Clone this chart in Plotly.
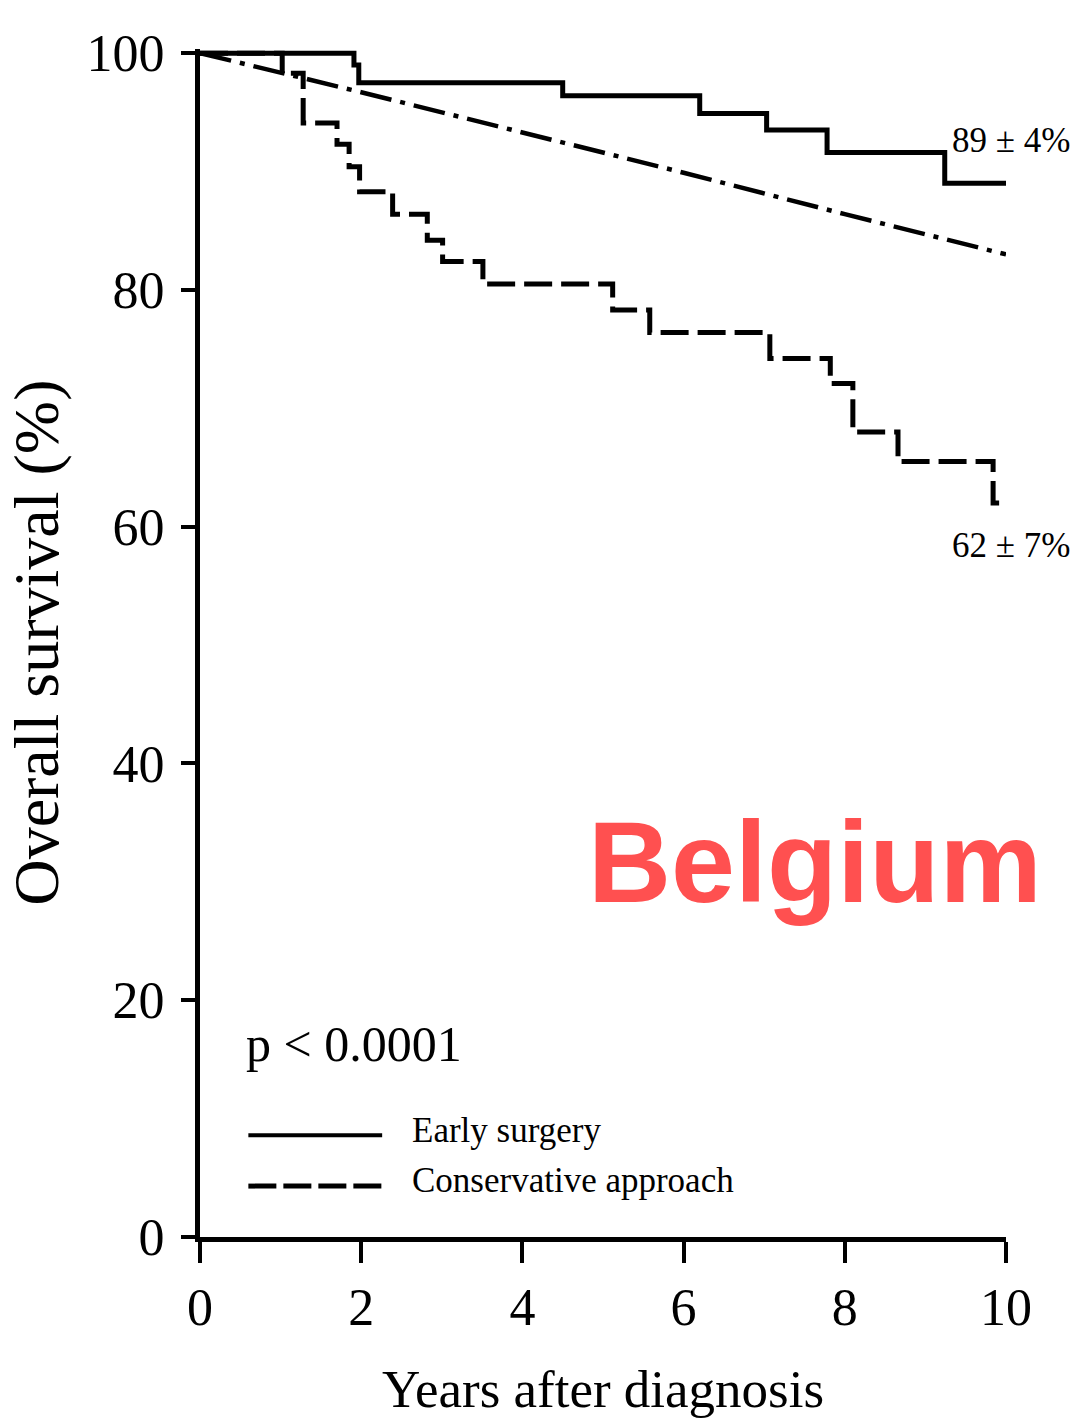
import plotly.graph_objects as go

# Kaplan-Meier step curves (years after diagnosis, overall survival %)
early_years = [0, 1.91, 1.97, 4.50, 6.20, 7.03, 7.78, 9.24, 10.0]
early_surv = [100, 99.0, 97.5, 96.4, 94.9, 93.5, 91.6, 89.0, 89.0]

cons_years = [0, 1.02, 1.28, 1.70, 1.85, 1.98, 2.39, 2.82, 3.01, 3.51,
              5.12, 5.58, 7.07, 7.82, 8.10, 8.66, 9.84, 10.0]
cons_surv = [100, 98.3, 94.1, 92.3, 90.4, 88.3, 86.4, 84.2, 82.4, 80.5,
             78.3, 76.4, 74.2, 72.1, 68.0, 65.5, 62.0, 62.0]

# Expected survival of the matched general population
expected_years = [0, 2, 4, 6, 8, 10]
expected_surv = [100, 96.7, 93.3, 89.9, 86.4, 83.0]

x_ticks = [0, 2, 4, 6, 8, 10]
y_ticks = [0, 20, 40, 60, 80, 100]

early_err = 4
cons_err = 7

SERIF = "Liberation Serif, Times New Roman, serif"

fig = go.Figure()
fig.add_trace(go.Scatter(
    x=expected_years, y=expected_surv, mode="lines",
    line=dict(color="black", width=4.5, dash="32px,9px,5px,9px"),
    name="Expected"))
fig.add_trace(go.Scatter(
    x=cons_years, y=cons_surv, mode="lines", line_shape="hv",
    line=dict(color="black", width=5, dash="28px,9px"),
    name="Conservative approach"))
fig.add_trace(go.Scatter(
    x=early_years, y=early_surv, mode="lines", line_shape="hv",
    line=dict(color="black", width=5),
    name="Early surgery"))

# End-of-follow-up survival labels
fig.add_annotation(x=9.3, y=early_surv[-1] + 3.6, xanchor="left", yanchor="middle",
                   text=f"{early_surv[-1]:.0f} ± {early_err}%", showarrow=False,
                   font=dict(family=SERIF, size=35, color="black"))
fig.add_annotation(x=9.3, y=cons_surv[-1] - 3.6, xanchor="left", yanchor="middle",
                   text=f"{cons_surv[-1]:.0f} ± {cons_err}%", showarrow=False,
                   font=dict(family=SERIF, size=35, color="black"))

# p-value and hand-drawn legend
fig.add_annotation(x=0.55, y=16.3, xanchor="left", yanchor="middle",
                   text="p < 0.0001", showarrow=False,
                   font=dict(family=SERIF, size=50, color="black"))
fig.add_shape(type="line", x0=0.6, x1=2.26, y0=8.6, y1=8.6,
              line=dict(color="black", width=4))
fig.add_shape(type="line", x0=0.6, x1=2.26, y0=4.3, y1=4.3,
              line=dict(color="black", width=5, dash="28px,7px"))
fig.add_annotation(x=2.61, y=9.0, xanchor="left", yanchor="middle",
                   text="Early surgery", showarrow=False,
                   font=dict(family=SERIF, size=35, color="black"))
fig.add_annotation(x=2.61, y=4.8, xanchor="left", yanchor="middle",
                   text="Conservative approach", showarrow=False,
                   font=dict(family=SERIF, size=35, color="black"))

# Country tag
fig.add_annotation(x=7.63, y=31.7, xanchor="center", yanchor="middle",
                   text="<b>Belgium</b>", showarrow=False,
                   font=dict(family="Liberation Sans, Arial, sans-serif",
                             size=115, color="#FF5050"))

# Axis titles
fig.add_annotation(xref="paper", yref="paper", x=-0.204, y=0.5,
                   xanchor="center", yanchor="middle", textangle=-90,
                   text="Overall survival (%)", showarrow=False,
                   font=dict(family=SERIF, size=64, color="black"))
fig.add_annotation(xref="paper", yref="paper", x=0.5, y=-0.128,
                   xanchor="center", yanchor="middle",
                   text="Years after diagnosis", showarrow=False,
                   font=dict(family=SERIF, size=53, color="black"))

fig.update_xaxes(range=[0, 10], tickvals=x_ticks, ticks="outside", ticklen=21,
                 tickwidth=4, tickcolor="black", showline=True, linewidth=5,
                 linecolor="black", showgrid=False, zeroline=False,
                 tickfont=dict(family=SERIF, size=52, color="black"),
                 ticklabelstandoff=0)
fig.update_yaxes(range=[0, 100.35], tickvals=y_ticks, ticks="outside", ticklen=14,
                 tickwidth=4, tickcolor="black", showline=True, linewidth=5,
                 linecolor="black", showgrid=False, zeroline=False,
                 tickfont=dict(family=SERIF, size=52, color="black"),
                 ticklabelstandoff=6)

fig.update_layout(width=1077, height=1423, showlegend=False,
                  paper_bgcolor="white", plot_bgcolor="white",
                  margin=dict(l=200, r=71, t=49, b=186))

fig.write_html("out.html")
